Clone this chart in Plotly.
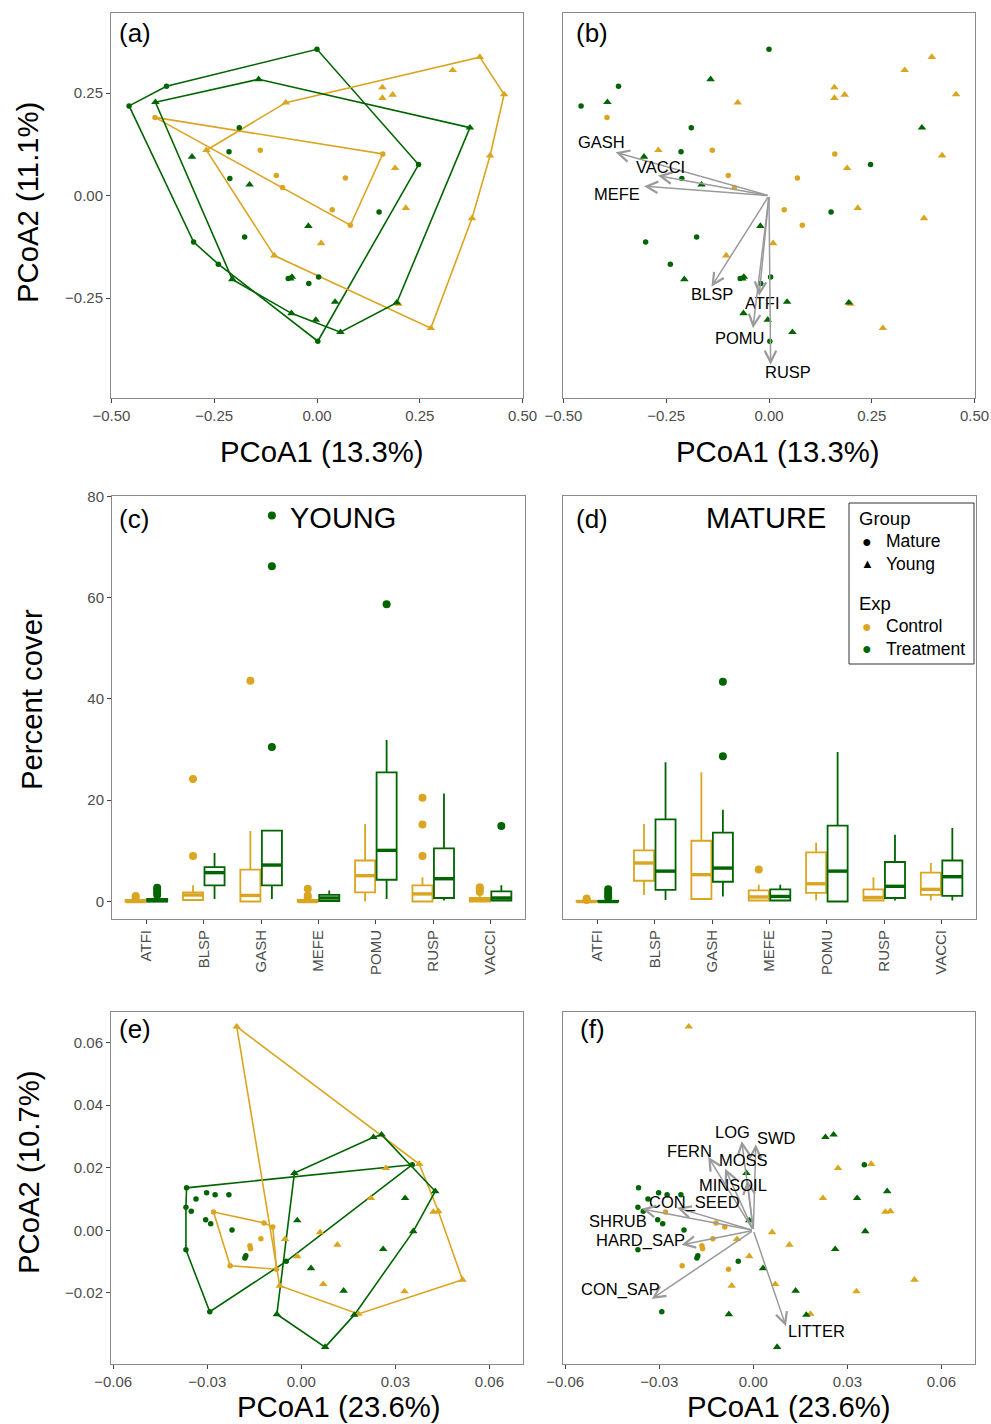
import plotly.graph_objects as go

W, H = 991, 1424
GOLD = "#DAA520"
GREEN = "#006400"
ARROW = "#9a9a9a"
BORDER = "#8a8a8a"
TICKC = "#444444"
TICKLAB = "#4d4d4d"
FONT = "Liberation Sans, Arial, Helvetica, sans-serif"

# ---------------- Panels (a)/(b): species PCoA scores ----------------
ab_mc_x = [-0.394, -0.138, -0.099, -0.084, 0.069, 0.160, 0.037, 0.081]
ab_mc_y = [0.191, 0.111, 0.049, 0.020, 0.043, 0.102, -0.034, -0.072]
ab_mt_x = [0.000, -0.366, -0.457, -0.189, -0.214, -0.212, 0.247, 0.151,
           -0.176, -0.300, -0.240, -0.070, -0.020, 0.004, 0.002]
ab_mt_y = [0.357, 0.267, 0.219, 0.166, 0.107, 0.042, 0.076, -0.040,
           -0.101, -0.113, -0.167, -0.202, -0.214, -0.198, -0.355]
ab_yc_x = [0.396, 0.330, 0.159, 0.159, 0.184, 0.455, -0.076, -0.269,
           0.421, 0.190, 0.216, 0.377, 0.010, -0.104, 0.198, 0.277]
ab_yc_y = [0.338, 0.306, 0.264, 0.238, 0.246, 0.247, 0.227, 0.111,
           0.098, 0.067, -0.030, -0.055, -0.116, -0.146, -0.264, -0.323]
ab_yt_x = [-0.142, -0.393, -0.304, -0.164, 0.372, -0.021, -0.206, -0.061,
           -0.065, 0.044, 0.194, -0.062, -0.003, 0.057]
ab_yt_y = [0.284, 0.228, 0.095, 0.027, 0.166, -0.074, -0.204, -0.198,
           -0.202, -0.259, -0.261, -0.287, -0.303, -0.333]

sp_names = ["GASH", "VACCI", "MEFE", "BLSP", "ATFI", "POMU", "RUSP"]
sp_vx = [-0.373, -0.270, -0.304, -0.140, -0.024, -0.039, 0.004]
sp_vy = [0.106, 0.049, 0.023, -0.222, -0.244, -0.323, -0.412]

# ---------------- Panels (c)/(d): percent cover box statistics ----------------
categories = ["ATFI", "BLSP", "GASH", "MEFE", "POMU", "RUSP", "VACCI"]

young_ctrl_lo = [0, 0.2, 0, 0, 0, 0, 0]
young_ctrl_q1 = [0, 0.3, 0, 0, 1.8, 0, 0]
young_ctrl_med = [0, 1.3, 1.2, 0, 5.1, 1.5, 0.3]
young_ctrl_q3 = [0.3, 1.8, 6.3, 0.3, 8.1, 3.2, 0.7]
young_ctrl_hi = [0.5, 3.2, 13.9, 0.6, 15.3, 4.8, 1.2]
young_ctrl_out = [[0.8, 1.1], [9.0, 24.2], [43.6], [0.8, 1.2, 2.5], [],
                  [9.0, 15.2, 20.5], [1.9, 2.4, 2.8]]

young_trt_lo = [0, 0.5, 0.5, 0, 0.5, 0.2, 0]
young_trt_q1 = [0, 3.2, 3.2, 0.1, 4.3, 0.7, 0.2]
young_trt_med = [0.2, 5.7, 7.2, 0.7, 10.1, 4.5, 0.7]
young_trt_q3 = [0.5, 6.8, 14.0, 1.3, 25.5, 10.5, 2.0]
young_trt_hi = [1.0, 9.6, 14.0, 2.2, 31.9, 21.3, 3.2]
young_trt_out = [[1.3, 1.8, 2.3, 2.7], [], [30.5, 66.2, 76.2], [], [58.7], [], [14.9]]

mature_ctrl_lo = [0, 1.3, 0.5, 0.2, 0.2, 0.2, 0.2]
mature_ctrl_q1 = [0, 4.1, 0.5, 0.2, 1.7, 0.2, 1.3]
mature_ctrl_med = [0, 7.6, 5.3, 0.9, 3.5, 0.8, 2.4]
mature_ctrl_q3 = [0.1, 10.1, 12.0, 2.2, 9.7, 2.4, 5.7]
mature_ctrl_hi = [0.2, 15.3, 25.5, 3.3, 11.6, 4.8, 7.6]
mature_ctrl_out = [[0.3, 0.6], [], [], [6.3], [], [], []]

mature_trt_lo = [0, 0.3, 1.0, 0.2, 0, 0.2, 0.2]
mature_trt_q1 = [0, 2.3, 3.9, 0.2, 0, 0.7, 1.1]
mature_trt_med = [0, 6.0, 6.6, 1.0, 6.0, 3.0, 4.9]
mature_trt_q3 = [0.1, 16.2, 13.6, 2.4, 15.0, 7.8, 8.1]
mature_trt_hi = [0.2, 27.5, 18.1, 3.3, 29.5, 13.2, 14.5]
mature_trt_out = [[0.8, 1.3, 1.8, 2.4], [], [28.7, 43.4], [], [], [], []]

# ---------------- Panels (e)/(f): environment PCoA scores ----------------
ef_mc_x = [-0.0280, -0.0119, -0.0091, -0.0129, -0.0164, -0.0162, -0.0227, -0.0079]
ef_mc_y = [0.0059, 0.0024, 0.0011, -0.0027, -0.0049, -0.0059, -0.0113, -0.0124]
ef_mt_x = [-0.0366, -0.0302, -0.0275, -0.0231, -0.0336, -0.0368, -0.0351, -0.0305,
           -0.0289, -0.0221, -0.0368, -0.0177, -0.0180, -0.0048, -0.0292, 0.0354]
ef_mt_y = [0.0136, 0.0120, 0.0114, 0.0114, 0.0100, 0.0074, 0.0061, 0.0034,
           0.0021, 0.0001, -0.0062, -0.0081, -0.0088, -0.0099, -0.0260, 0.0210]
ef_yc_x = [-0.0206, 0.0376, 0.0270, 0.0222, 0.0421, 0.0437, 0.0060, 0.0115,
           -0.0013, -0.0052, 0.0070, 0.0329, 0.0514, 0.0182, -0.0069]
ef_yc_y = [0.0651, 0.0212, 0.0199, 0.0103, 0.0059, 0.0061, -0.0006, -0.0046,
           -0.0083, -0.0028, -0.0172, -0.0195, -0.0158, -0.0267, -0.0177]
ef_yt_x = [-0.0022, -0.0013, 0.0230, 0.0256, 0.0427, 0.0331, 0.0357, 0.0261,
           0.0031, 0.0135, 0.0169, -0.0078, 0.0076]
ef_yt_y = [0.0183, 0.0032, 0.0298, 0.0306, 0.0125, 0.0103, -0.0003, -0.0060,
           -0.0121, -0.0193, -0.0270, -0.0268, -0.0373]

env_names = ["LOG", "SWD", "FERN", "MOSS", "MINSOIL", "CON_SEED", "SHRUB",
             "HARD_SAP", "CON_SAP", "LITTER"]
env_vx = [-0.0037, 0.0008, -0.0144, -0.0090, -0.0019, -0.0243, -0.0356,
          -0.0229, -0.0324, 0.0104]
env_vy = [0.0286, 0.0275, 0.0235, 0.0197, 0.0160, 0.0072, 0.0069,
          -0.0046, -0.0219, -0.0306]

# legend entries
legend_sections = [("Group", [("Mature", "black", "●"), ("Young", "black", "▲")]),
                   ("Exp", [("Control", GOLD, "●"), ("Treatment", GREEN, "●")])]

# label offsets (pixels) relative to arrow tips
sp_label_shift = {"GASH": (-14, 10), "VACCI": (3, 9), "MEFE": (-27, -8),
                  "BLSP": (1, -7), "ATFI": (3, -7), "POMU": (-13, -10), "RUSP": (17, -7)}
env_label_shift = {"LOG": (-9, 9), "SWD": (21, 6), "FERN": (-19, 6), "MOSS": (18, 9),
                   "MINSOIL": (-14, -5), "CON_SEED": (17, 5), "SHRUB": (-24, -12),
                   "HARD_SAP": (-41, 4), "CON_SAP": (-31, 9), "LITTER": (31, -5)}


def hull(xs, ys):
    pts = sorted(set(zip(xs, ys)))
    if len(pts) < 3:
        return pts

    def cross(o, a, b):
        return (a[0] - o[0]) * (b[1] - o[1]) - (a[1] - o[1]) * (b[0] - o[0])

    lower = []
    for p in pts:
        while len(lower) >= 2 and cross(lower[-2], lower[-1], p) <= 0:
            lower.pop()
        lower.append(p)
    upper = []
    for p in reversed(pts):
        while len(upper) >= 2 and cross(upper[-2], upper[-1], p) <= 0:
            upper.pop()
        upper.append(p)
    h = lower[:-1] + upper[:-1]
    return h + [h[0]]


fig = go.Figure()

groups_ab = [(ab_mc_x, ab_mc_y, GOLD, "circle"), (ab_mt_x, ab_mt_y, GREEN, "circle"),
             (ab_yc_x, ab_yc_y, GOLD, "triangle-up"), (ab_yt_x, ab_yt_y, GREEN, "triangle-up")]
groups_ef = [(ef_mc_x, ef_mc_y, GOLD, "circle"), (ef_mt_x, ef_mt_y, GREEN, "circle"),
             (ef_yc_x, ef_yc_y, GOLD, "triangle-up"), (ef_yt_x, ef_yt_y, GREEN, "triangle-up")]


def add_points(groups, xa, ya, with_hull):
    if with_hull:
        for xs, ys, col, sym in groups:
            h = hull(xs, ys)
            fig.add_trace(go.Scatter(x=[p[0] for p in h], y=[p[1] for p in h], mode="lines",
                                     line=dict(color=col, width=1.6), xaxis=xa, yaxis=ya,
                                     showlegend=False, hoverinfo="skip"))
    for xs, ys, col, sym in groups:
        fig.add_trace(go.Scatter(x=xs, y=ys, mode="markers",
                                 marker=dict(color=col, symbol=sym,
                                             size=5.5 if sym == "circle" else 7.5),
                                 xaxis=xa, yaxis=ya, showlegend=False))


add_points(groups_ab, "x", "y", True)
add_points(groups_ab, "x2", "y2", False)
add_points(groups_ef, "x5", "y5", True)
add_points(groups_ef, "x6", "y6", False)

# ---------------- boxplots ----------------
OFF = 0.1875
BW = 0.35


def add_boxes(xa, ya, lo, q1, med, q3, hi, outs, col, off):
    pos = [i + 1 + off for i in range(len(categories))]
    fig.add_trace(go.Box(x=pos, q1=q1, median=med, q3=q3, lowerfence=lo, upperfence=hi,
                         width=BW, whiskerwidth=0, boxpoints=False,
                         line=dict(color=col, width=1.8), fillcolor="rgba(255,255,255,0)",
                         xaxis=xa, yaxis=ya, showlegend=False, hoverinfo="skip"))
    mx, my = [], []
    for p, m in zip(pos, med):
        mx += [p - BW / 2, p + BW / 2, None]
        my += [m, m, None]
    fig.add_trace(go.Scatter(x=mx, y=my, mode="lines", line=dict(color=col, width=3.4),
                             xaxis=xa, yaxis=ya, showlegend=False, hoverinfo="skip"))
    ox, oy = [], []
    for p, o in zip(pos, outs):
        ox += [p] * len(o)
        oy += o
    fig.add_trace(go.Scatter(x=ox, y=oy, mode="markers", marker=dict(color=col, size=8),
                             xaxis=xa, yaxis=ya, showlegend=False))


add_boxes("x3", "y3", young_ctrl_lo, young_ctrl_q1, young_ctrl_med, young_ctrl_q3,
          young_ctrl_hi, young_ctrl_out, GOLD, -OFF)
add_boxes("x3", "y3", young_trt_lo, young_trt_q1, young_trt_med, young_trt_q3,
          young_trt_hi, young_trt_out, GREEN, OFF)
add_boxes("x4", "y4", mature_ctrl_lo, mature_ctrl_q1, mature_ctrl_med, mature_ctrl_q3,
          mature_ctrl_hi, mature_ctrl_out, GOLD, -OFF)
add_boxes("x4", "y4", mature_trt_lo, mature_trt_q1, mature_trt_med, mature_trt_q3,
          mature_trt_hi, mature_trt_out, GREEN, OFF)

# ---------------- axes ----------------
panels = {
    "a": (111, 523, 13, 398), "b": (563, 975, 13, 398),
    "c": (112, 525, 496, 919), "d": (563, 976, 496, 919),
    "e": (111, 523, 1012, 1364), "f": (563, 975, 1012, 1364),
}


def dom(p):
    x0, x1, y0, y1 = panels[p]
    return [x0 / W, x1 / W], [1 - y1 / H, 1 - y0 / H]


common = dict(showgrid=False, zeroline=False, showline=True, mirror=True, linecolor=BORDER,
              linewidth=1, ticks="outside", ticklen=4, tickwidth=1, tickcolor=TICKC,
              automargin=False,
              tickfont=dict(family=FONT, size=15, color=TICKLAB))
noy = dict(showticklabels=False, ticks="")

ab_xr = [-0.501, 0.501]
ab_yr = [-0.4934, 0.4456]
cd_xr = [0.4, 7.6]
cd_yr = [-3.45, 80.05]
ef_xr = [-0.0607, 0.0707]
ef_yr = [-0.0427, 0.0698]

layout_axes = {}
spec = [("a", "", ab_xr, ab_yr, True), ("b", "2", ab_xr, ab_yr, False),
        ("c", "3", cd_xr, cd_yr, True), ("d", "4", cd_xr, cd_yr, False),
        ("e", "5", ef_xr, ef_yr, True), ("f", "6", ef_xr, ef_yr, False)]
for p, n, xr, yr, showy in spec:
    dx, dy = dom(p)
    xa = dict(common, domain=dx, range=xr, anchor="y" + n)
    ya = dict(common, domain=dy, range=yr, anchor="x" + n)
    if p in "ab":
        xa.update(tickvals=[-0.5, -0.25, 0, 0.25, 0.5], tickformat=".2f")
        ya.update(tickvals=[-0.25, 0, 0.25], tickformat=".2f")
    elif p in "cd":
        xa.update(tickvals=list(range(1, 8)), ticktext=categories, tickangle=-90)
        ya.update(tickvals=[0, 20, 40, 60, 80])
    else:
        xa.update(tickvals=[-0.06, -0.03, 0, 0.03, 0.06], tickformat=".2f")
        ya.update(tickvals=[-0.02, 0, 0.02, 0.04, 0.06], tickformat=".2f")
    if not showy:
        ya.update(noy)
    layout_axes["xaxis" + n] = xa
    layout_axes["yaxis" + n] = ya

annotations = []


def txt(text, px, py, size, xanchor="center", yanchor="middle", angle=0, color="black"):
    annotations.append(dict(text=text, x=px / W, y=1 - py / H, xref="paper", yref="paper",
                            showarrow=False, xanchor=xanchor, yanchor=yanchor, textangle=angle,
                            font=dict(family=FONT, size=size, color=color)))


# axis titles
TS = 29.3
txt("PCoA1 (13.3%)", 322, 451, TS)
txt("PCoA1 (13.3%)", 778, 451, TS)
txt("PCoA1 (23.6%)", 339, 1406, TS)
txt("PCoA1 (23.6%)", 789, 1406, TS)
txt("PCoA2 (11.1%)", 27, 203, TS, angle=-90)
txt("Percent cover", 31, 700, TS, angle=-90)
txt("PCoA2 (10.7%)", 28, 1172, TS, angle=-90)
# panel tags
for tag, px, py in [("(a)", 117, 33), ("(b)", 574, 33), ("(c)", 117, 519),
                    ("(d)", 574, 519), ("(e)", 117, 1029), ("(f)", 578, 1029)]:
    txt(tag, px, py, 26, xanchor="left")
txt("YOUNG", 343, 518, 29)
txt("MATURE", 766, 518, 29)

# legend (drawn manually, ggplot style)
LEG_X0, LEG_Y0, LEG_X1, LEG_Y1 = 849, 503, 974, 664
shapes = [dict(type="rect", xref="paper", yref="paper", x0=LEG_X0 / W, x1=LEG_X1 / W,
               y0=1 - LEG_Y1 / H, y1=1 - LEG_Y0 / H, line=dict(color="#333333", width=1),
               fillcolor="white", layer="above")]
row_y = LEG_Y0 + 15.5
for title, items in legend_sections:
    txt(title, LEG_X0 + 8, row_y, 18.5, xanchor="left")
    row_y += 22.7
    for name, col, glyph in items:
        txt(glyph, LEG_X0 + 18, row_y, 16 if glyph == "●" else 13, color=col)
        txt(name, LEG_X0 + 35, row_y, 17.5, xanchor="left")
        row_y += 22.7
    row_y += 16.9

# arrows
for name, vx, vy in zip(sp_names, sp_vx, sp_vy):
    annotations.append(dict(x=vx, y=vy, ax=0, ay=0, xref="x2", yref="y2", axref="x2", ayref="y2",
                            text="", showarrow=True, arrowhead=5, arrowsize=1.5, arrowwidth=1.5,
                            arrowcolor=ARROW, standoff=0, startstandoff=0))
    sx, sy = sp_label_shift[name]
    annotations.append(dict(x=vx, y=vy, xref="x2", yref="y2", text=name, showarrow=False,
                            xshift=sx, yshift=sy, font=dict(family=FONT, size=16.5, color="black")))
for name, vx, vy in zip(env_names, env_vx, env_vy):
    annotations.append(dict(x=vx, y=vy, ax=0, ay=0, xref="x6", yref="y6", axref="x6", ayref="y6",
                            text="", showarrow=True, arrowhead=5, arrowsize=1.5, arrowwidth=1.5,
                            arrowcolor=ARROW, standoff=0, startstandoff=0))
    sx, sy = env_label_shift[name]
    annotations.append(dict(x=vx, y=vy, xref="x6", yref="y6", text=name, showarrow=False,
                            xshift=sx, yshift=sy, font=dict(family=FONT, size=16.5, color="black")))

fig.update_layout(
    width=W, height=H, margin=dict(l=0, r=0, t=0, b=0, autoexpand=False),
    paper_bgcolor="white", plot_bgcolor="white",
    font=dict(family=FONT, color="black"),
    boxmode="overlay", showlegend=False,
    annotations=annotations, shapes=shapes,
    **layout_axes,
)

fig.write_html("out.html")
